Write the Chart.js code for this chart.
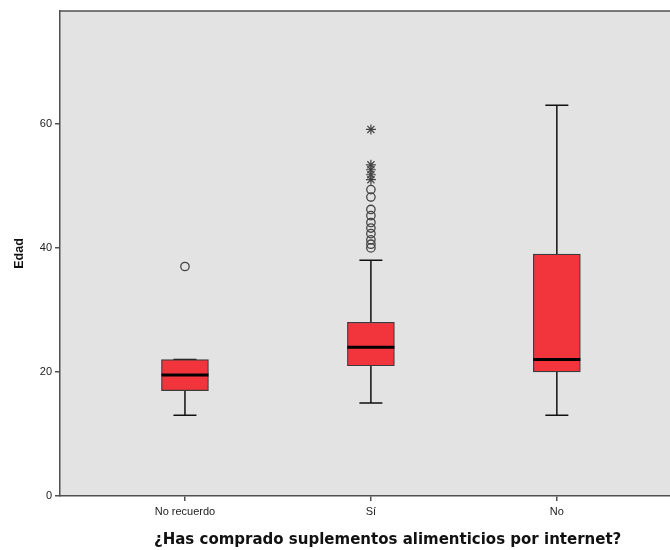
<!DOCTYPE html>
<html>
<head>
<meta charset="utf-8">
<script src="https://cdn.jsdelivr.net/npm/chart.js@4.4.1/dist/chart.umd.min.js"></script>
<style>
  html, body { margin: 0; padding: 0; background: #ffffff; overflow: hidden; }
  #wrap { width: 670px; height: 550px; overflow: hidden; }
</style>
</head>
<body>
<div id="wrap"><canvas id="c" width="688" height="550"></canvas></div>
<script>
// Age by answer to "bought supplements online?"
const categories = ['No recuerdo', 'Sí', 'No'];
const whiskerLow  = [13, 15, 13];
const q1          = [17, 21, 20];
const median      = [19.5, 24, 22];
const q3          = [22, 28, 39];
const whiskerHigh = [22, 38, 63];

// Outliers: circles (moderate) and stars (extreme), per category index
const outlierCat   = [0, 1, 1, 1, 1, 1, 1, 1, 1, 1, 1];
const outlierAge   = [37, 40, 40.6, 41.3, 42.3, 43.2, 44.1, 45.2, 46.2, 48.2, 49.4];
const extremeCat   = [1, 1, 1, 1, 1];
const extremeAge   = [51, 51.8, 52.6, 53.4, 59.1];

const yTicks = [0, 20, 40, 60];
const xTitle = '¿Has comprado suplementos alimenticios por internet?';

const boxData = categories.map((c, i) => ({ x: i, y: [q1[i], q3[i]] }));
const outData = outlierAge.map((v, i) => ({ x: outlierCat[i], y: v }));
const extData = extremeAge.map((v, i) => ({ x: extremeCat[i], y: v }));

const AXIS = '#505050';

// plot background, top frame line and the x-axis title
const framePlugin = {
  id: 'frame',
  beforeDraw(chart) {
    const { ctx, chartArea: a } = chart;
    ctx.save();
    ctx.fillStyle = '#e3e3e3';
    ctx.fillRect(a.left, a.top, a.right - a.left, a.bottom - a.top);
    ctx.restore();
  },
  afterDraw(chart) {
    const { ctx, chartArea: a, scales: { x } } = chart;
    ctx.save();
    ctx.strokeStyle = AXIS;
    ctx.lineWidth = 1.5;
    ctx.beginPath();
    ctx.moveTo(a.left, a.top);
    ctx.lineTo(a.right, a.top);
    ctx.stroke();
    ctx.fillStyle = '#111';
    ctx.font = 'bold 15px "DejaVu Sans", sans-serif';
    ctx.textAlign = 'center';
    ctx.textBaseline = 'middle';
    ctx.fillText(xTitle, x.getPixelForValue(1.09), 540);
    ctx.restore();
  }
};

// whiskers and median lines, positioned through the chart scales
const whiskerPlugin = {
  id: 'whiskers',
  beforeDatasetsDraw(chart) {
    const { ctx, scales: { x, y } } = chart;
    ctx.save();
    ctx.strokeStyle = '#111';
    ctx.lineWidth = 1.5;
    categories.forEach((c, i) => {
      const cx = x.getPixelForValue(i);
      const cap = 11.5;
      ctx.beginPath();
      ctx.moveTo(cx, y.getPixelForValue(q3[i]));
      ctx.lineTo(cx, y.getPixelForValue(whiskerHigh[i]));
      ctx.moveTo(cx, y.getPixelForValue(q1[i]));
      ctx.lineTo(cx, y.getPixelForValue(whiskerLow[i]));
      ctx.moveTo(cx - cap, y.getPixelForValue(whiskerHigh[i]));
      ctx.lineTo(cx + cap, y.getPixelForValue(whiskerHigh[i]));
      ctx.moveTo(cx - cap, y.getPixelForValue(whiskerLow[i]));
      ctx.lineTo(cx + cap, y.getPixelForValue(whiskerLow[i]));
      ctx.stroke();
    });
    ctx.restore();
  },
  afterDatasetsDraw(chart) {
    const { ctx, scales: { x, y } } = chart;
    ctx.save();
    ctx.strokeStyle = '#000';
    ctx.lineWidth = 3;
    categories.forEach((c, i) => {
      const cx = x.getPixelForValue(i);
      const half = 23.5;
      const my = y.getPixelForValue(median[i]);
      ctx.beginPath();
      ctx.moveTo(cx - half, my);
      ctx.lineTo(cx + half, my);
      ctx.stroke();
    });
    ctx.restore();
  }
};

new Chart(document.getElementById('c'), {
  data: {
    datasets: [
      {
        type: 'bar',
        data: boxData,
        backgroundColor: '#f2353c',
        borderColor: '#3c3c3c',
        borderWidth: 1.2,
        borderSkipped: false,
        barThickness: 47,
        order: 2
      },
      {
        type: 'scatter',
        data: outData,
        pointStyle: 'circle',
        pointRadius: 4.2,
        backgroundColor: 'rgba(0,0,0,0)',
        borderColor: '#444',
        borderWidth: 1.3,
        order: 1
      },
      {
        type: 'scatter',
        data: extData,
        pointStyle: 'star',
        pointRadius: 5,
        borderColor: '#444',
        borderWidth: 1.2,
        order: 1
      }
    ]
  },
  options: {
    responsive: false,
    animation: false,
    devicePixelRatio: 1,
    layout: { padding: { top: 11, right: 0, left: 0, bottom: 0 } },
    plugins: {
      legend: { display: false },
      tooltip: { enabled: false }
    },
    scales: {
      x: {
        type: 'linear',
        offset: false,
        min: -0.672,
        max: 2.672,
        afterBuildTicks(scale) {
          scale.ticks = categories.map((c, i) => ({ value: i }));
        },
        afterFit(scale) {
          scale.height = 54;
          scale.paddingLeft = 0;
          scale.paddingRight = 0;
        },
        ticks: {
          callback: (v) => categories[v],
          color: '#222',
          font: { family: 'Liberation Sans, Arial, sans-serif', size: 11 },
          padding: 4,
          maxRotation: 0,
          autoSkip: false
        },
        grid: { display: true, offset: false, drawOnChartArea: false, drawTicks: true, tickLength: 5, color: AXIS, lineWidth: 1.5 },
        border: { display: true, color: AXIS, width: 1.5 }
      },
      y: {
        type: 'linear',
        min: 0,
        max: 78.2,
        afterBuildTicks(scale) {
          scale.ticks = yTicks.map(v => ({ value: v }));
        },
        afterFit(scale) { scale.width = 60; },
        ticks: {
          color: '#222',
          font: { family: 'Liberation Sans, Arial, sans-serif', size: 11 },
          padding: 3
        },
        grid: { display: true, drawOnChartArea: false, drawTicks: true, tickLength: 5, color: AXIS, lineWidth: 1.5 },
        border: { display: true, color: AXIS, width: 1.5 },
        title: {
          display: true,
          text: 'Edad',
          color: '#111',
          font: { family: 'Liberation Sans, Arial, sans-serif', size: 12.5, weight: 'bold' },
          padding: { top: 12, bottom: 0 }
        }
      }
    }
  },
  plugins: [framePlugin, whiskerPlugin]
});
</script>
</body>
</html>
